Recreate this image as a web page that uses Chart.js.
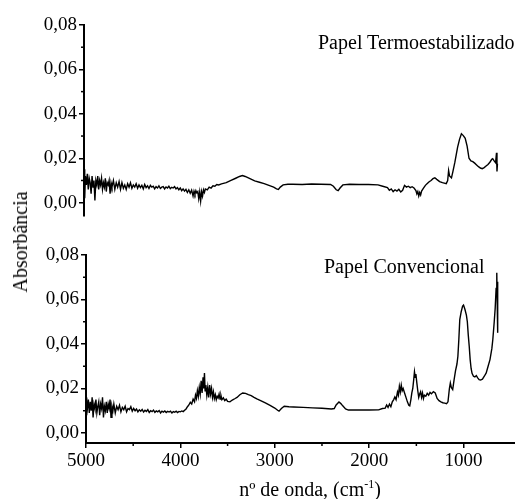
<!DOCTYPE html>
<html>
<head>
<meta charset="utf-8">
<script src="https://cdn.jsdelivr.net/npm/chart.js@4"></script>
<style>
    body { margin: 0; background: #fff; }
    #wrap { position: relative; width: 515px; height: 499px; overflow: hidden; font-family: "Liberation Serif", serif; color: #000; }
    canvas { position: absolute; left: 0; }
    .label { position: absolute; font-size: 20px; line-height: 20px; white-space: nowrap; }
    #ytitle { left: 20px; top: 242px; transform: translate(-50%, -50%) rotate(-90deg); }
    #xtitle { left: 310px; top: 479px; transform: translateX(-50%); }
    sup { font-size: 12px; vertical-align: 8px; line-height: 0; }
</style>
</head>
<body>
<div id="wrap">
    <canvas id="topChart" width="515" height="232" style="top:0"></canvas>
    <canvas id="bottomChart" width="515" height="267" style="top:232px"></canvas>
    <div class="label" style="left:318px; top:32px;">Papel Termoestabilizado</div>
    <div class="label" style="left:324px; top:256px;">Papel Convencional</div>
    <div class="label" id="ytitle">Absorbância</div>
    <div class="label" id="xtitle">nº de onda, (cm<sup>-1</sup>)</div>
</div>
<script>
// wavenumber ticks and absorbance ticks
const xTicks = [5000, 4000, 3000, 2000, 1000];
const xMinor = [4500, 3500, 2500, 1500];
const yTicks = [0, 0.02, 0.04, 0.06, 0.08];
const yMinor = [0.01, 0.03, 0.05, 0.07];

// [wavenumber, absorbance]
const termoSpectrum = [
    [5000,0.009],[4995,0.015],[4990,0.002],[4985,0.012],[4975,0.008],[4965,0.013],[4955,0.006],[4945,0.011],
    [4935,0.009],[4925,0.004],[4915,0.012],[4905,0.007],[4895,0.010],[4885,0.001],[4875,0.010],[4865,0.008],
    [4855,0.012],[4845,0.006],[4835,0.010],[4825,0.008],[4815,0.011],[4805,0.006],[4795,0.009],[4785,0.007],
    [4775,0.011],[4765,0.005],[4755,0.009],[4745,0.008],[4735,0.010],[4725,0.004],[4715,0.009],[4705,0.007],
    [4690,0.010],[4675,0.006],[4660,0.009],[4645,0.007],[4630,0.0095],[4615,0.006],[4600,0.009],[4585,0.0065],
    [4570,0.008],[4555,0.006],[4540,0.0085],[4525,0.007],[4510,0.009],[4495,0.0065],[4480,0.008],[4465,0.007],
    [4450,0.0085],[4435,0.0065],[4420,0.008],[4405,0.0068],[4390,0.0078],[4375,0.0062],[4360,0.0082],[4345,0.0068],
    [4330,0.0076],[4315,0.0064],[4300,0.0078],[4285,0.007],[4270,0.0074],[4255,0.0062],[4240,0.0072],[4225,0.0066],
    [4210,0.0076],[4195,0.0064],[4180,0.007],[4165,0.0072],[4150,0.0062],[4135,0.0071],[4120,0.0066],[4105,0.0074],
    [4090,0.0063],[4075,0.0069],[4060,0.0066],[4045,0.0072],[4030,0.0062],[4015,0.0068],[4000,0.0058],[3985,0.0066],
    [3970,0.0054],[3955,0.0062],[3940,0.0052],[3925,0.006],[3910,0.0046],[3895,0.0058],[3880,0.0042],[3865,0.0056],
    [3850,0.003],[3840,0.0052],[3830,0.0038],[3820,0.0054],[3810,0.0044],[3800,0.005],[3790,0.0018],[3780,0.0048],
    [3770,0.0008],[3760,0.005],[3750,0.003],[3740,0.0058],[3730,0.0046],[3720,0.0062],[3700,0.0058],[3680,0.007],
    [3660,0.0066],[3640,0.0076],[3620,0.0074],[3600,0.0082],[3580,0.008],[3550,0.0085],[3500,0.009],[3450,0.01],
    [3400,0.011],[3360,0.0118],[3330,0.0122],[3300,0.0118],[3250,0.0108],[3200,0.0098],[3150,0.0092],[3100,0.0086],
    [3050,0.0078],[3000,0.007],[2970,0.0062],[2950,0.006],[2930,0.007],[2900,0.008],[2850,0.0083],[2800,0.0083],
    [2700,0.0082],[2600,0.0084],[2500,0.0083],[2400,0.0082],[2370,0.0074],[2340,0.0058],[2320,0.0054],[2300,0.0066],
    [2270,0.008],[2200,0.0083],[2100,0.0082],[2000,0.0082],[1900,0.008],[1850,0.0074],[1800,0.0068],[1780,0.0056],
    [1760,0.0062],[1740,0.005],[1720,0.0058],[1700,0.0052],[1680,0.006],[1660,0.0048],[1640,0.0056],[1620,0.0078],
    [1600,0.007],[1580,0.0074],[1560,0.0068],[1540,0.0072],[1520,0.0066],[1500,0.0055],[1490,0.004],[1480,0.005],
    [1470,0.003],[1460,0.0046],[1450,0.0035],[1440,0.0052],[1420,0.0065],[1400,0.0078],[1380,0.0086],[1360,0.0094],
    [1340,0.01],[1320,0.0108],[1300,0.0112],[1280,0.0105],[1250,0.0095],[1220,0.009],[1180,0.0086],[1165,0.01],
    [1155,0.0145],[1145,0.012],[1125,0.0112],[1110,0.014],[1090,0.018],[1075,0.0215],[1060,0.025],[1040,0.0285],
    [1020,0.031],[1000,0.0302],[980,0.029],[960,0.0255],[940,0.02],[920,0.0188],[900,0.0185],[880,0.0178],
    [860,0.017],[840,0.0162],[820,0.0156],[800,0.0153],[780,0.0158],[760,0.0165],[740,0.0172],[720,0.0182],
    [700,0.0195],[690,0.0198],[675,0.0188],[660,0.018],[650,0.0225],[645,0.014],[640,0.0175]
];

const convSpectrum = [
    [5000,0.016],[4995,0.008],[4990,0.013],[4985,0.011],[4975,0.015],[4965,0.009],[4955,0.014],[4945,0.01],
    [4935,0.016],[4925,0.007],[4915,0.013],[4905,0.011],[4895,0.015],[4885,0.009],[4875,0.012],[4865,0.014],
    [4855,0.008],[4845,0.013],[4835,0.011],[4825,0.016],[4815,0.007],[4805,0.012],[4795,0.01],[4785,0.014],
    [4775,0.009],[4765,0.013],[4755,0.011],[4745,0.015],[4735,0.007],[4725,0.012],[4715,0.01],[4705,0.013],
    [4690,0.009],[4675,0.012],[4660,0.0105],[4645,0.0125],[4630,0.0095],[4615,0.0115],[4600,0.0105],[4585,0.012],
    [4570,0.0095],[4555,0.011],[4540,0.0105],[4525,0.0118],[4510,0.0098],[4495,0.011],[4480,0.01],[4465,0.0108],
    [4450,0.0095],[4435,0.0104],[4420,0.0098],[4405,0.0106],[4390,0.0094],[4375,0.0102],[4360,0.0097],[4345,0.0105],
    [4330,0.0092],[4315,0.01],[4300,0.0096],[4285,0.0103],[4270,0.0093],[4255,0.0099],[4240,0.0095],[4225,0.0101],
    [4210,0.009],[4195,0.0098],[4180,0.0094],[4165,0.0099],[4150,0.0092],[4135,0.0097],[4120,0.0094],[4105,0.0098],
    [4090,0.009],[4075,0.0096],[4060,0.0093],[4045,0.0098],[4030,0.0092],[4015,0.0097],[4000,0.0095],[3985,0.0099],
    [3970,0.0096],[3955,0.0102],[3940,0.0108],[3925,0.0118],[3910,0.0126],[3895,0.0138],[3880,0.013],[3865,0.0152],
    [3850,0.014],[3840,0.017],[3830,0.0155],[3820,0.019],[3810,0.0165],[3800,0.0205],[3790,0.0175],[3780,0.0235],
    [3770,0.018],[3760,0.025],[3752,0.02],[3745,0.027],[3738,0.019],[3730,0.0215],[3720,0.017],[3710,0.0205],
    [3700,0.016],[3690,0.0215],[3680,0.0175],[3670,0.02],[3660,0.016],[3650,0.0185],[3640,0.0155],[3630,0.0172],
    [3620,0.015],[3610,0.0165],[3600,0.0158],[3590,0.0175],[3580,0.0152],[3570,0.0168],[3560,0.015],[3545,0.0158],
    [3530,0.0146],[3515,0.0152],[3500,0.0142],[3475,0.014],[3450,0.0148],[3420,0.0155],[3400,0.016],[3370,0.0172],
    [3340,0.018],[3310,0.0178],[3280,0.0172],[3250,0.0168],[3220,0.016],[3190,0.0153],[3150,0.0145],[3100,0.0135],
    [3050,0.0124],[3000,0.0112],[2970,0.0102],[2955,0.0098],[2930,0.011],[2900,0.012],[2850,0.0118],[2800,0.0117],
    [2700,0.0115],[2600,0.0113],[2500,0.0111],[2400,0.0108],[2370,0.011],[2350,0.0126],[2320,0.0139],[2300,0.0132],
    [2280,0.0122],[2250,0.0108],[2220,0.0103],[2100,0.0103],[2000,0.0103],[1900,0.0104],[1860,0.011],[1830,0.0112],
    [1815,0.0126],[1800,0.0115],[1785,0.013],[1770,0.0118],[1755,0.014],[1740,0.015],[1728,0.0162],[1715,0.015],
    [1700,0.0184],[1690,0.017],[1680,0.021],[1670,0.0185],[1660,0.0215],[1650,0.019],[1640,0.02],[1625,0.018],
    [1610,0.016],[1595,0.014],[1580,0.0125],[1570,0.0122],[1558,0.015],[1548,0.018],[1538,0.02],[1528,0.024],
    [1520,0.0275],[1512,0.025],[1505,0.0265],[1495,0.0225],[1485,0.019],[1475,0.016],[1465,0.0175],[1455,0.0185],
    [1445,0.016],[1435,0.018],[1425,0.0155],[1415,0.017],[1400,0.0165],[1385,0.0178],[1370,0.017],[1355,0.0182],
    [1340,0.0176],[1320,0.0186],[1300,0.018],[1280,0.0155],[1260,0.0145],[1240,0.014],[1220,0.0136],[1200,0.0134],
    [1180,0.0132],[1165,0.014],[1150,0.02],[1140,0.0225],[1130,0.0205],[1115,0.0195],[1100,0.024],[1085,0.028],
    [1070,0.031],[1060,0.0345],[1050,0.042],[1040,0.051],[1025,0.0545],[1010,0.057],[1000,0.0575],[985,0.0555],
    [970,0.053],[960,0.05],[950,0.044],[940,0.039],[930,0.033],[920,0.029],[910,0.0268],[895,0.0255],
    [880,0.0252],[865,0.0258],[850,0.0248],[835,0.024],[820,0.0238],[800,0.0242],[780,0.0255],[760,0.027],
    [740,0.03],[720,0.033],[700,0.038],[690,0.042],[675,0.05],[665,0.056],[655,0.065],[648,0.072],
    [644,0.06],[640,0.068],[637,0.045]
];

Chart.defaults.font.family = '"Liberation Serif", serif';
Chart.defaults.font.size = 19;
Chart.defaults.color = '#000';

// small unlabeled ticks between the labeled ones
const minorTicks = {
    id: 'minorTicks',
    afterDraw(chart, args, opts) {
        const ctx = chart.ctx;
        ctx.save();
        ctx.strokeStyle = '#000';
        ctx.lineWidth = 1.5;
        const y = chart.scales.y;
        (opts.y || []).forEach(v => {
            const p = y.getPixelForValue(v);
            ctx.beginPath();
            ctx.moveTo(y.right - 3, p);
            ctx.lineTo(y.right, p);
            ctx.stroke();
        });
        const x = chart.scales.x;
        (opts.x || []).forEach(v => {
            const p = x.getPixelForValue(v);
            ctx.beginPath();
            ctx.moveTo(p, x.top);
            ctx.lineTo(p, x.top + 3);
            ctx.stroke();
        });
        ctx.restore();
    }
};

function makeChart(id, spectrum, opts) {
    return new Chart(document.getElementById(id), {
        type: 'line',
        data: {
            datasets: [{
                data: spectrum.map(p => ({ x: p[0], y: p[1] })),
                borderColor: '#000',
                borderWidth: 1.4,
                pointRadius: 0,
                tension: 0
            }]
        },
        options: {
            responsive: false,
            animation: false,
            layout: { padding: { top: opts.padTop, bottom: opts.padBottom, left: 0, right: 0 } },
            plugins: {
                legend: { display: false },
                tooltip: { enabled: false },
                minorTicks: { y: yMinor, x: opts.showX ? xMinor : [] }
            },
            scales: {
                x: {
                    type: 'linear',
                    reverse: true,
                    min: 455,
                    max: 5000,
                    display: opts.showX,
                    afterBuildTicks: s => { s.ticks = xTicks.map(v => ({ value: v })); },
                    afterFit: s => { s.height = opts.showX ? 56 : 0; },
                    ticks: { callback: v => String(v), padding: 2, maxRotation: 0 },
                    grid: { display: true, drawOnChartArea: false, tickLength: 5, color: '#000', lineWidth: 1.5 },
                    border: { display: true, color: '#000', width: 2 }
                },
                y: {
                    min: opts.yMin,
                    max: 0.08,
                    afterBuildTicks: s => { s.ticks = yTicks.map(v => ({ value: v })); },
                    afterFit: s => { s.width = opts.axisX; },
                    ticks: { callback: v => v.toFixed(2).replace('.', ','), padding: 2 },
                    grid: { display: true, drawOnChartArea: false, tickLength: 5, color: '#000', lineWidth: 1.5 },
                    border: { display: true, color: '#000', width: 2 }
                }
            }
        },
        plugins: [minorTicks]
    });
}

makeChart('topChart', termoSpectrum, { padTop: 25, padBottom: 16, yMin: -0.006, axisX: 84, showX: false });
makeChart('bottomChart', convSpectrum, { padTop: 23, padBottom: 0, yMin: -0.0045, axisX: 86, showX: true });
</script>
</body>
</html>
